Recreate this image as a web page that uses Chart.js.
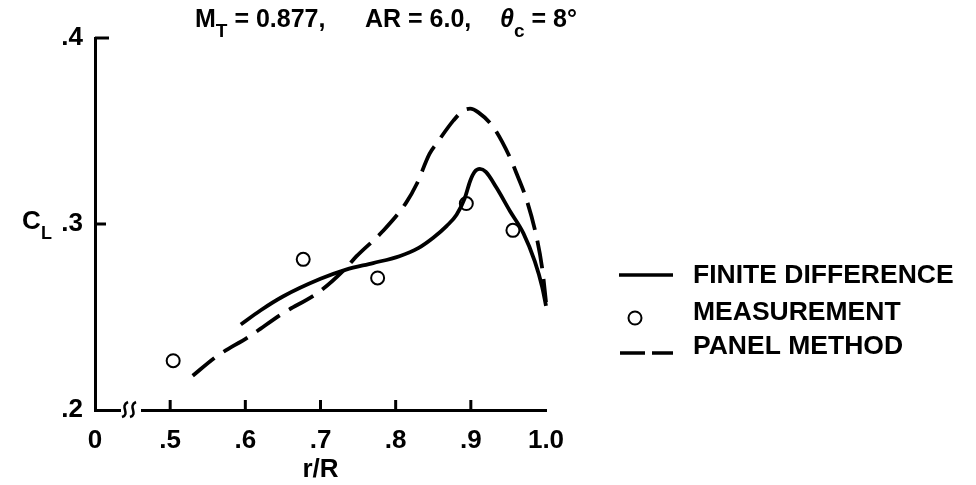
<!DOCTYPE html>
<html>
<head>
<meta charset="utf-8">
<script src="https://cdn.jsdelivr.net/npm/chart.js@4.4.0/dist/chart.umd.min.js"></script>
<style>
  html, body { margin: 0; padding: 0; background: #fff; }
  #wrap { width: 976px; height: 485px; }
</style>
</head>
<body>
<div id="wrap"><canvas id="clChart" width="976" height="485"></canvas></div>
<script>
// values (r/R on x, C_L on y)
const fdR  = [0.594, 0.620, 0.650, 0.700, 0.734, 0.770, 0.805, 0.830, 0.850, 0.868, 0.881, 0.892, 0.899, 0.905, 0.912, 0.920, 0.934, 0.952, 0.970, 0.985, 0.995, 1.000];
const fdCL = [0.246, 0.2535, 0.261, 0.2705, 0.2755, 0.279, 0.2827, 0.287, 0.2926, 0.299, 0.305, 0.314, 0.323, 0.328, 0.3296, 0.328, 0.3196, 0.307, 0.295, 0.280, 0.266, 0.256];

const panelR  = [0.530, 0.561, 0.605, 0.650, 0.699, 0.734, 0.748, 0.783, 0.814, 0.828, 0.845, 0.854, 0.877, 0.890, 0.899, 0.910, 0.930, 0.952, 0.961, 0.975, 0.988, 0.995, 1.000];
const panelCL = [0.2184, 0.2286, 0.2395, 0.252, 0.2638, 0.2764, 0.2827, 0.2962, 0.3115, 0.3215, 0.3377, 0.343, 0.3557, 0.361, 0.362, 0.360, 0.352, 0.3358, 0.327, 0.312, 0.292, 0.276, 0.258];

const measR  = [0.504, 0.677, 0.776, 0.894, 0.956];
const measCL = [0.2265, 0.281, 0.271, 0.311, 0.2966];

const xTickLabels = ['0', '.5', '.6', '.7', '.8', '.9', '1.0'];
const yTickLabels = ['.2', '.3', '.4'];
const xTickMarks = [0.5, 0.6, 0.7, 0.8, 0.9];
const yTickMarks = [0.3, 0.4];

const legendLabels = ['FINITE DIFFERENCE', 'MEASUREMENT', 'PANEL METHOD'];

const FONT = '"Liberation Sans", Arial, Helvetica, sans-serif';

const toPts = (xs, ys) => xs.map((x, i) => ({ x: x, y: ys[i] }));

// axis ticks drawn inward, axis break, C_L label, title and legend
const extras = {
  id: 'extras',
  afterDraw(chart) {
    const ctx = chart.ctx;
    const xs = chart.scales.x, ys = chart.scales.y;
    const area = chart.chartArea;
    ctx.save();
    ctx.strokeStyle = '#000';
    ctx.fillStyle = '#000';
    ctx.lineWidth = 3;
    ctx.lineCap = 'butt';

    xTickMarks.forEach(v => {
      const px = xs.getPixelForValue(v);
      ctx.beginPath(); ctx.moveTo(px, area.bottom); ctx.lineTo(px, area.bottom - 10); ctx.stroke();
    });
    yTickMarks.forEach((v, i) => {
      const py = ys.getPixelForValue(v);
      ctx.beginPath(); ctx.moveTo(area.left, py); ctx.lineTo(area.left + (i === 1 ? 14 : 11), py); ctx.stroke();
    });

    // break on the x axis
    ctx.fillStyle = '#fff';
    ctx.fillRect(121, area.bottom - 3, 20, 6);
    ctx.strokeStyle = '#000';
    ctx.lineWidth = 2.5;
    [122, 130].forEach(x => {
      ctx.beginPath();
      ctx.moveTo(x, area.bottom + 7);
      ctx.bezierCurveTo(x + 9, area.bottom + 4, x - 3, area.bottom - 4, x + 6, area.bottom - 8);
      ctx.stroke();
    });

    ctx.fillStyle = '#000';
    ctx.textBaseline = 'alphabetic';
    ctx.textAlign = 'left';

    // C_L
    ctx.font = 'bold 26px ' + FONT;
    ctx.fillText('C', 22, 229);
    ctx.font = 'bold 18px ' + FONT;
    ctx.fillText('L', 41, 239);

    // title
    const big = 'bold 25px ' + FONT, sub = 'bold 19px ' + FONT;
    let x = 195;
    ctx.font = big; ctx.fillText('M', x, 27); x += ctx.measureText('M').width;
    ctx.font = sub; ctx.fillText('T', x, 37); x += ctx.measureText('T').width;
    ctx.font = big; ctx.fillText(' = 0.877,', x, 27);
    ctx.fillText('AR = 6.0,', 365, 27);
    x = 500;
    ctx.font = 'italic bold 25px ' + FONT; ctx.fillText('\u03b8', x, 27); x += ctx.measureText('\u03b8').width;
    ctx.font = sub; ctx.fillText('c', x, 37); x += ctx.measureText('c').width;
    ctx.font = big; ctx.fillText(' = 8\u00b0', x, 27);

    // legend
    ctx.lineWidth = 3.5;
    ctx.beginPath(); ctx.moveTo(619, 275); ctx.lineTo(673, 275); ctx.stroke();
    ctx.lineWidth = 2;
    ctx.beginPath(); ctx.arc(635, 318, 6.5, 0, Math.PI * 2); ctx.stroke();
    ctx.lineWidth = 3.5;
    ctx.beginPath(); ctx.moveTo(620, 353); ctx.lineTo(645, 353); ctx.moveTo(652, 353); ctx.lineTo(673, 353); ctx.stroke();
    ctx.font = 'bold 26.5px ' + FONT;
    ctx.textBaseline = 'middle';
    ctx.fillText(legendLabels[0], 693, 276);
    ctx.fillText(legendLabels[1], 693, 313);
    ctx.fillText(legendLabels[2], 693, 347);
    ctx.restore();
  }
};

const ctx = document.getElementById('clChart').getContext('2d');
new Chart(ctx, {
  type: 'line',
  data: {
    datasets: [
      {
        label: legendLabels[0],
        data: toPts(fdR, fdCL),
        borderColor: '#000',
        borderWidth: 3.8,
        pointRadius: 0,
        cubicInterpolationMode: 'monotone',
        clip: false
      },
      {
        label: legendLabels[2],
        data: toPts(panelR, panelCL),
        borderColor: '#000',
        borderWidth: 3.8,
        borderDash: [28, 11],
        pointRadius: 0,
        cubicInterpolationMode: 'monotone',
        clip: false
      },
      {
        label: legendLabels[1],
        data: toPts(measR, measCL),
        showLine: false,
        pointStyle: 'circle',
        pointRadius: 6.5,
        pointBorderWidth: 2,
        pointBorderColor: '#000',
        pointBackgroundColor: '#fff',
        clip: false
      }
    ]
  },
  options: {
    responsive: false,
    animation: false,
    devicePixelRatio: 1,
    layout: { padding: { left: 0, right: 430, top: 38, bottom: 0 } },
    plugins: { legend: { display: false }, tooltip: { enabled: false } },
    scales: {
      x: {
        type: 'linear',
        min: 0.4,
        max: 1.0,
        afterFit: s => { s.height = 75; },
        grid: { display: false, drawTicks: false },
        border: { display: true, color: '#000', width: 3 },
        ticks: {
          stepSize: 0.1,
          autoSkip: false,
          maxRotation: 0,
          padding: 15,
          color: '#000',
          font: { family: FONT, size: 26, weight: 'bold' },
          callback: (v, i) => xTickLabels[i]
        },
        title: {
          display: true,
          text: 'r/R',
          color: '#000',
          font: { family: FONT, size: 26, weight: 'bold' },
          padding: 0
        }
      },
      y: {
        min: 0.2,
        max: 0.4,
        afterFit: s => { s.width = 95; },
        grid: { display: false, drawTicks: false },
        border: { display: true, color: '#000', width: 3 },
        ticks: {
          stepSize: 0.1,
          padding: 12,
          color: '#000',
          font: { family: FONT, size: 26, weight: 'bold' },
          callback: (v, i) => yTickLabels[i]
        }
      }
    }
  },
  plugins: [extras]
});
</script>
</body>
</html>
